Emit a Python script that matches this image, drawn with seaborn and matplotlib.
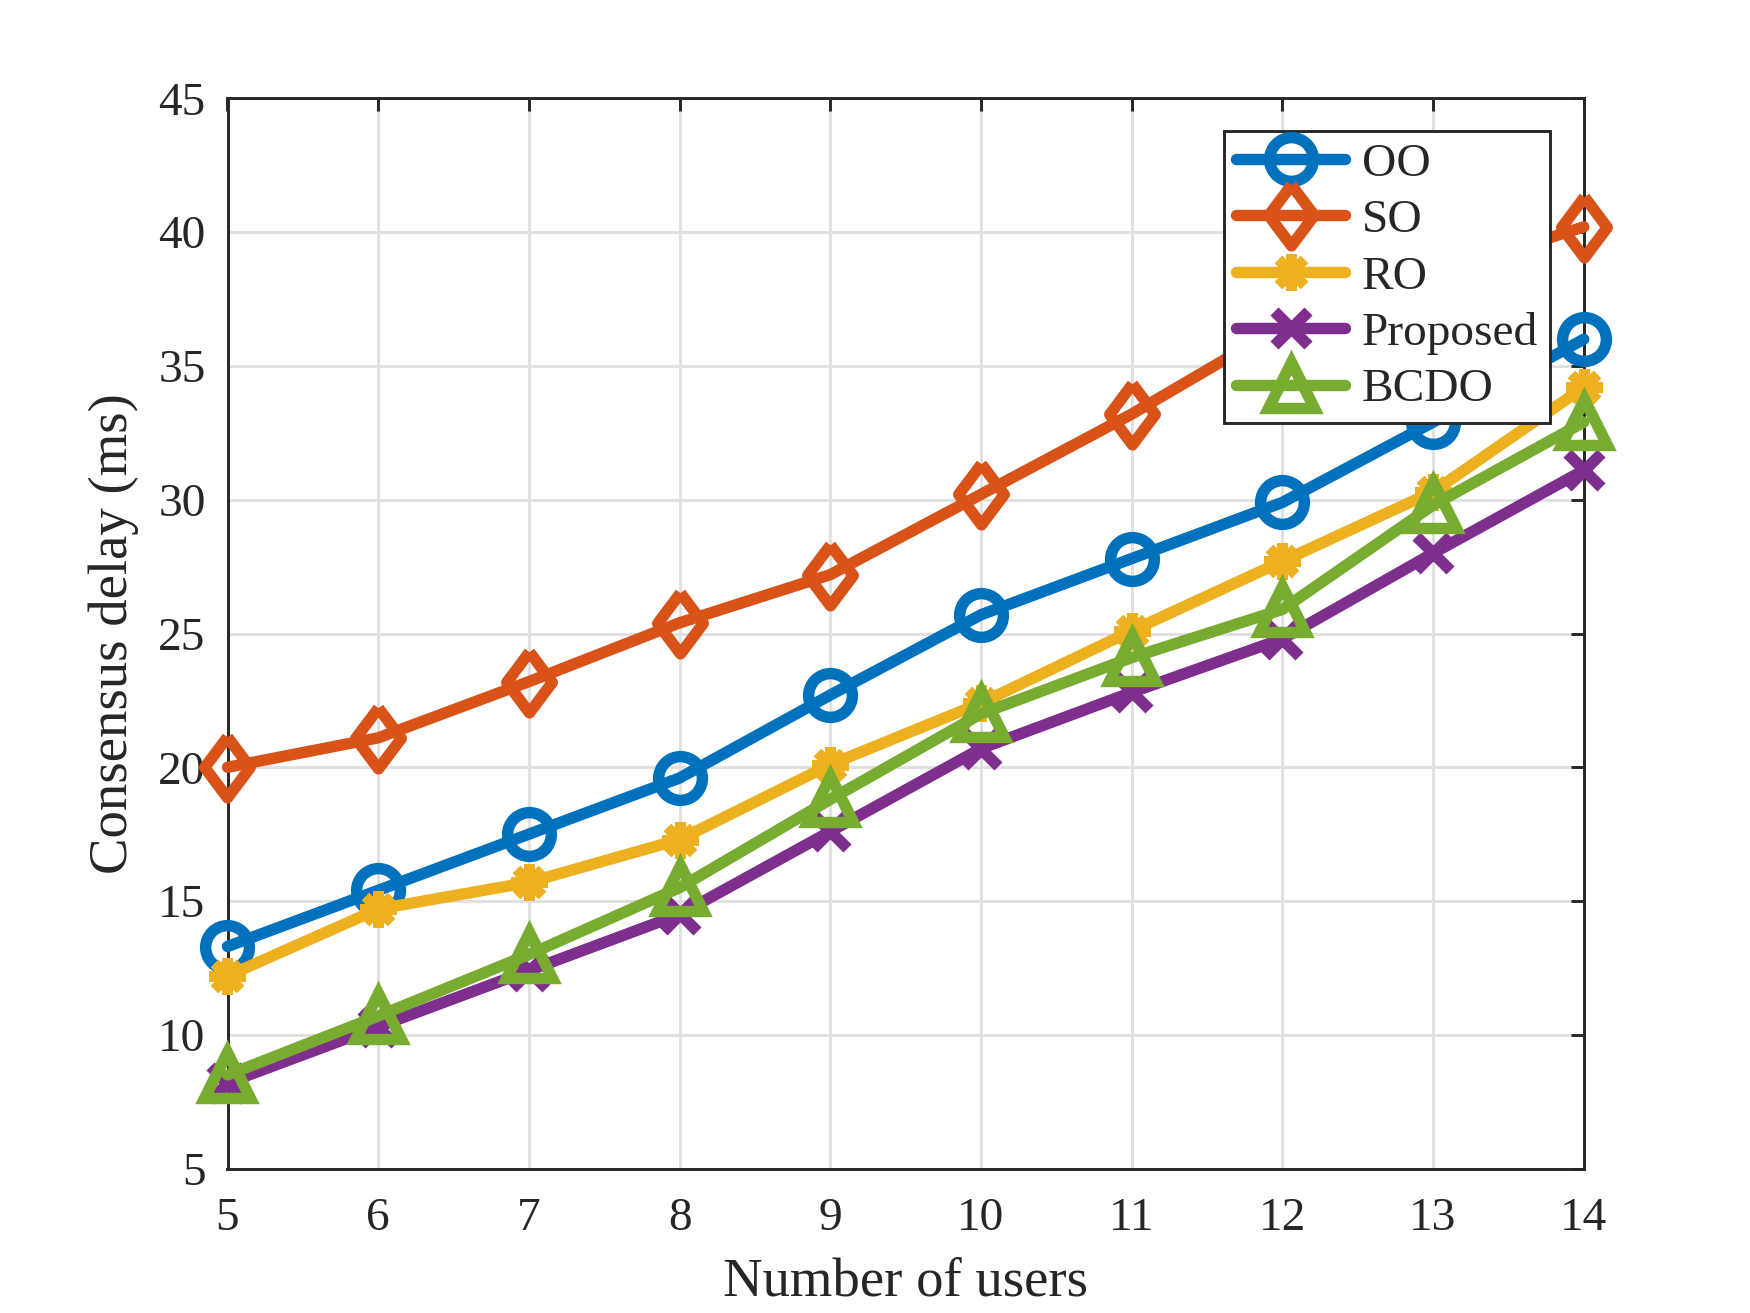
import numpy as np
import pandas as pd
import matplotlib
matplotlib.use('Agg')
import matplotlib.pyplot as plt
import seaborn as sns

# Данные
users = [5, 6, 7, 8, 9, 10, 11, 12, 13, 14]
oo = [13.3, 15.4, 17.5, 19.6, 22.7, 25.7, 27.8, 29.9, 32.9, 36.0]
so = [20.0, 21.1, 23.2, 25.4, 27.2, 30.2, 33.2, 36.5, 38.4, 40.2]
ro = [12.2, 14.7, 15.7, 17.3, 20.1, 22.4, 25.1, 27.7, 30.3, 34.2]
proposed = [8.2, 10.3, 12.4, 14.5, 17.6, 20.7, 22.8, 24.8, 28.0, 31.1]
bcdo = [8.5, 10.7, 13.0, 15.5, 18.8, 22.0, 24.1, 25.9, 29.8, 32.9]

sns.set_style('white')
plt.rcParams['font.family'] = ['Liberation Serif', 'DejaVu Serif']

fig = plt.figure(figsize=(10, 7.503), dpi=175)
ax = fig.add_axes([0.13, 0.11, 0.775, 0.815])

lw = 4.7
# ромб как в MATLAB: шире, чем 'd'
diamond = [(0, 1), (0.75, 0), (0, -1), (-0.75, 0), (0, 1)]
series = [
    ('OO', oo, '#0072BD', 'o', 18, lw),
    ('SO', so, '#D95319', diamond, 25, lw),
    ('RO', ro, '#EDB120', (8, 2, 0), 15, 4.3),
    ('Proposed', proposed, '#7E2F8E', 'x', 14, lw),
    ('BCDO', bcdo, '#77AC30', '^', 19, lw),
]

for name, vals, color, marker, ms, mew in series:
    sns.lineplot(x=users, y=vals, ax=ax, color=color, label=name,
                 linewidth=lw, marker=marker, markersize=ms,
                 markerfacecolor='none', markeredgecolor=color,
                 markeredgewidth=mew, zorder=3, clip_on=False)

ax.set_xlim(5, 14)
ax.set_ylim(5, 45)
ax.set_xticks(users)
ax.set_yticks(np.arange(5, 46, 5))
ax.grid(True, color='#e0e0e0', linewidth=1.2)
ax.set_axisbelow(True)

for s in ax.spines.values():
    s.set_color('#262626')
    s.set_linewidth(1.2)
    s.set_zorder(2.5)
ax.tick_params(direction='in', length=5.5, width=1.2, colors='#262626',
               labelsize=19.5, top=True, right=True)
ax.tick_params(axis='x', pad=12)
ax.tick_params(axis='y', pad=9)

ax.set_xlabel('Number of users', fontsize=22.5, color='#262626', labelpad=7)
ax.set_ylabel('Consensus delay (ms)', fontsize=22.5, color='#262626', labelpad=8)

leg = ax.legend(loc='upper right', bbox_to_anchor=(0.975, 0.97),
                borderaxespad=0, fontsize=19.5, frameon=True, fancybox=False,
                framealpha=1, edgecolor='#262626', handlelength=2.3,
                labelspacing=0.28, borderpad=0.25, handletextpad=0.35)
leg.get_frame().set_linewidth(1.2)
leg.set_zorder(5)

fig.savefig('out.png', dpi=175)
